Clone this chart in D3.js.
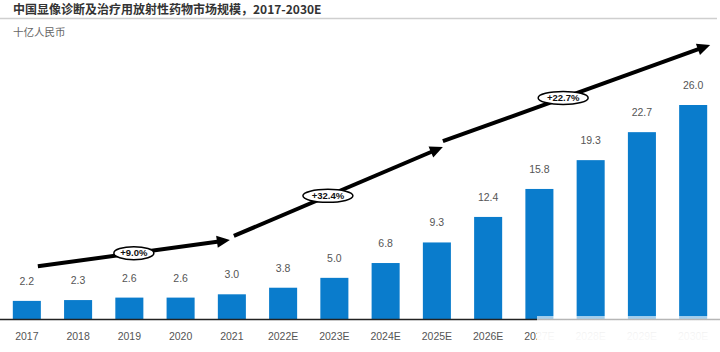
<!DOCTYPE html>
<html><head><meta charset="utf-8">
<script src="https://cdn.jsdelivr.net/npm/d3@7"></script>
<style>body{margin:0;background:#fff}svg{display:block}</style>
</head><body><div id="chart"></div>
<script>
const categories = ["2017","2018","2019","2020","2021","2022E","2023E","2024E","2025E","2026E","2027E","2028E","2029E","2030E"];
const values = [2.2,2.3,2.6,2.6,3.0,3.8,5.0,6.8,9.3,12.4,15.8,19.3,22.7,26.0];
const cagrFrom = ["2017","2021","2025E"];
const cagrTo = ["2021","2025E","2030E"];
const cagrLabels = ["+9.0%","+32.4%","+22.7%"];
const title = "中国显像诊断及治疗用放射性药物市场规模，2017-2030E";
const unit = "十亿人民币";

const W = 720, H = 352;
const svg = d3.select("#chart").append("svg").attr("width", W).attr("height", H);
const cjk = "'Noto Sans CJK SC','Noto Sans',sans-serif";
const latin = "'Liberation Sans',Arial,sans-serif";

svg.append("text").attr("x", 13).attr("y", 14).text(title)
  .attr("font-family", cjk).attr("font-weight", "bold").attr("font-size", 12).attr("fill", "#333");
svg.append("line").attr("x1", 0).attr("x2", 717).attr("y1", 18.5).attr("y2", 18.5)
  .attr("stroke", "#cfcfcf").attr("stroke-width", 1.5);
svg.append("text").attr("x", 13).attr("y", 36).text(unit)
  .attr("font-family", cjk).attr("font-size", 10.5).attr("fill", "#666");

const x = d3.scaleBand().domain(categories).range([0, 720]).paddingInner(0.453).paddingOuter(0.25);
const y = d3.scaleLinear().domain([0, 26]).range([319, 105]);
const cx = c => x(c) + x.bandwidth() / 2;

svg.append("g").selectAll("rect").data(categories).join("rect")
  .attr("x", d => x(d)).attr("width", x.bandwidth())
  .attr("y", (d, i) => y(values[i])).attr("height", (d, i) => y(0) - y(values[i]))
  .attr("fill", "#0a7ccc");

svg.append("g").selectAll("text").data(categories).join("text")
  .attr("x", d => cx(d)).attr("y", (d, i) => y(values[i]) - 16)
  .attr("text-anchor", "middle").attr("font-family", latin).attr("font-size", 10.5).attr("fill", "#555")
  .text((d, i) => values[i].toFixed(1));

// axis
const xAxis = d3.axisBottom(x).tickSize(0).tickPadding(14);
const ax = svg.append("g").attr("transform", `translate(0,${y(0)})`).call(xAxis);
ax.select(".domain").remove();
ax.selectAll("text").attr("font-family", latin).attr("font-size", 10.5).attr("fill", "#555");
svg.append("line").attr("x1", 0).attr("x2", 720).attr("y1", y(0)+0.5).attr("y2", y(0)+0.5)
  .attr("stroke", "#222").attr("stroke-width", 1.5);

// washed-out overlay in bottom-right
const grad = svg.append("defs").append("linearGradient").attr("id", "fade").attr("x1", 0).attr("x2", 0).attr("y1", 0).attr("y2", 1);
grad.append("stop").attr("offset", 0).attr("stop-color", "#fff").attr("stop-opacity", 0.6);
grad.append("stop").attr("offset", 0.5).attr("stop-color", "#fff").attr("stop-opacity", 0.95);
grad.append("stop").attr("offset", 1).attr("stop-color", "#fff").attr("stop-opacity", 0.97);
svg.append("rect").attr("x", 537).attr("y", y(0) - 3).attr("width", W - 537).attr("height", H - y(0) + 3)
  .attr("fill", "url(#fade)");

// CAGR arrows: start/end levels in value units
const startLevels = [6.4, 10.1, 21.6];
const endLevels = [9.6, 20.9, 33.3];
const startOff = [11, 2, 6];
const endOff = [-2, 6, 17];
const ag = svg.append("g");
cagrLabels.forEach((lab, i) => {
  const x0 = cx(cagrFrom[i]) + startOff[i], y0 = y(startLevels[i]);
  const x1 = cx(cagrTo[i]) + endOff[i], y1 = y(endLevels[i]);
  const dx = x1 - x0, dy = y1 - y0, L = Math.hypot(dx, dy);
  const ux = dx / L, uy = dy / L, nx = -uy, ny = ux;
  const hl = 13, hw = 6;
  const bx = x1 - ux * hl, by = y1 - uy * hl;
  ag.append("line").attr("x1", x0).attr("y1", y0).attr("x2", bx + ux*2).attr("y2", by + uy*2)
    .attr("stroke", "#000").attr("stroke-width", 4);
  ag.append("path").attr("d", `M${x1},${y1}L${bx + nx*hw},${by + ny*hw}L${bx - nx*hw},${by - ny*hw}Z`).attr("fill", "#000");
  const t = i === 0 ? 0.5 : 0.45;
  const ex = x0 + dx * t, ey = y0 + dy * t;
  const rx = lab.length > 5 ? 25 : 20;
  ag.append("ellipse").attr("cx", ex).attr("cy", ey).attr("rx", rx).attr("ry", 6.5)
    .attr("fill", "#fff").attr("stroke", "#000").attr("stroke-width", 1.5);
  ag.append("text").attr("x", ex).attr("y", ey + 3.3).attr("text-anchor", "middle")
    .attr("font-family", latin).attr("font-weight", "bold").attr("font-size", 9.5).attr("fill", "#111").text(lab);
});
</script></body></html>
